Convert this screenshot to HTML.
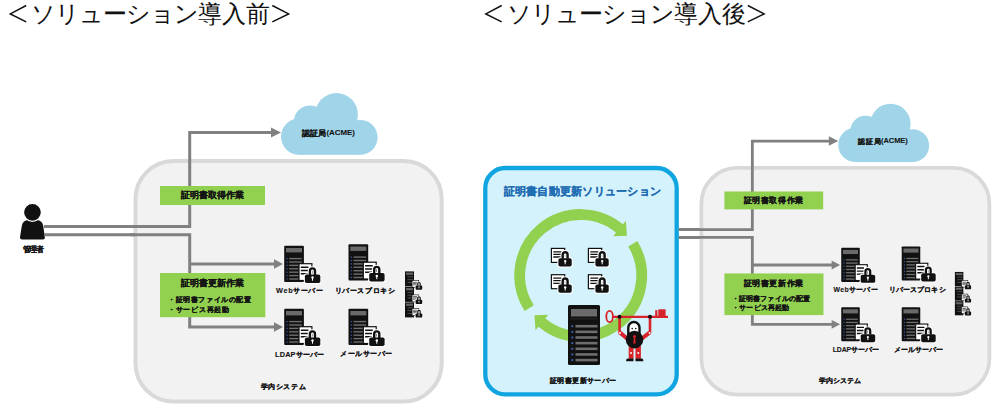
<!DOCTYPE html>
<html><head><meta charset="utf-8"><style>
html,body{margin:0;padding:0;background:#fff;width:1000px;height:410px;overflow:hidden;}
.t{position:absolute;top:0;font-family:"Liberation Sans",sans-serif;font-size:24px;line-height:28px;color:#111;white-space:nowrap;}
svg{position:absolute;left:0;top:0;}
.k{letter-spacing:-1px}
</style></head><body>
<svg width="1000" height="410" viewBox="0 0 1000 410">
<defs><g id="srv">
<rect x="0" y="0" width="19.7" height="36.2" rx="1" fill="#111"/>
<rect x="1.8" y="2.2" width="16" height="4.4" fill="#6a6a6a"/>
<rect x="2.3" y="12.2" width="1.2" height="1.2" fill="#3b5ea8"/><rect x="5" y="12.1" width="12.6" height="1.4" fill="#6e6e6e"/><rect x="2.3" y="15.6" width="1.2" height="1.2" fill="#3b5ea8"/><rect x="5" y="15.5" width="12.6" height="1.4" fill="#6e6e6e"/><rect x="2.3" y="19" width="1.2" height="1.2" fill="#3b5ea8"/><rect x="5" y="18.9" width="12.6" height="1.4" fill="#6e6e6e"/><rect x="2.3" y="22.4" width="1.2" height="1.2" fill="#3b5ea8"/><rect x="5" y="22.3" width="12.6" height="1.4" fill="#6e6e6e"/><rect x="2.3" y="25.8" width="1.2" height="1.2" fill="#3b5ea8"/><rect x="5" y="25.7" width="12.6" height="1.4" fill="#6e6e6e"/><rect x="2.3" y="29.2" width="1.2" height="1.2" fill="#3b5ea8"/><rect x="5" y="29.1" width="12.6" height="1.4" fill="#6e6e6e"/><rect x="2.3" y="32.6" width="1.2" height="1.2" fill="#3b5ea8"/><rect x="5" y="32.5" width="12.6" height="1.4" fill="#6e6e6e"/>
<g transform="translate(14.2 17.3) scale(1.0)"><rect x="0.6" y="0.6" width="12.9" height="16.8" fill="#fff" stroke="#111" stroke-width="1.2"/><path d="M2.4 4.1H10M2.4 7.4H10M2.4 10.6H10" stroke="#111" stroke-width="1.5"/><path d="M11.5 11.8V7.85A2.55 2.55 0 0 1 16.6 7.85V11.8" fill="none" stroke="#fff" stroke-width="4.4"/><rect x="5.5" y="10.3" width="17.4" height="10.6" rx="2.5" fill="#fff"/><path d="M11.5 11.8V7.85A2.55 2.55 0 0 1 16.6 7.85V11.8" fill="none" stroke="#111" stroke-width="2.4"/><rect x="6.5" y="11.3" width="15.4" height="8.6" rx="1.8" fill="#111"/><circle cx="14.1" cy="14.4" r="1.2" fill="#fff"/><path d="M14.1 14.4V17.6" stroke="#fff" stroke-width="1"/></g>
</g></defs>
<g id="sys">
<rect x="135.5" y="161" width="306.2" height="240.5" rx="38" fill="#f2f2f2" stroke="#d9d9d9" stroke-width="4"/>
<g fill="#a0d5e9">
<circle cx="336.5" cy="114.4" r="21.4"/>
<circle cx="310" cy="121.8" r="16.2"/>
<circle cx="299.2" cy="136.6" r="18.2"/>
<circle cx="360.2" cy="137.4" r="17.4"/>
<rect x="299" y="121.5" width="61.5" height="33.3"/>
</g>
<text x="313.90" y="136.10" font-size="7.6" text-anchor="middle" textLength="24.20" lengthAdjust="spacing" font-family="Liberation Sans, sans-serif" font-weight="bold" fill="#141414" stroke="#141414" stroke-width="0.12">認証局</text><text x="340.65" y="134.90" font-size="7.9" text-anchor="middle" textLength="28.30" lengthAdjust="spacing" font-family="Liberation Sans, sans-serif" font-weight="bold" fill="#141414" stroke="#141414" stroke-width="0.1">(ACME)</text>
<path d="M130 226.5H189.7V132.5H272" fill="none" stroke="#808080" stroke-width="3"/>
<path d="M130 234.8H189.7V327H275M189.7 264H275" fill="none" stroke="#808080" stroke-width="3"/>
<path d="M271 127.5L281 132.5L271 137.5Z M274 259.3L283 264L274 268.7Z M274 322.3L283 327L274 331.7Z" fill="#808080"/>
<rect x="160" y="186" width="105" height="19" fill="#92d050"/>
<text x="212.10" y="198.10" font-size="8.9" text-anchor="middle" textLength="63.00" lengthAdjust="spacing" font-family="Liberation Sans, sans-serif" font-weight="bold" fill="#141414" stroke="#141414" stroke-width="0.15">証明書取得作業</text>
<rect x="160" y="273" width="105.3" height="44.2" fill="#92d050"/>
<text x="212.05" y="286.20" font-size="8.9" text-anchor="middle" textLength="63.10" lengthAdjust="spacing" font-family="Liberation Sans, sans-serif" font-weight="bold" fill="#141414" stroke="#141414" stroke-width="0.15">証明書更新作業</text>
<text x="209.50" y="302.20" font-size="7.2" text-anchor="middle" textLength="83.00" lengthAdjust="spacing" font-family="Liberation Sans, sans-serif" font-weight="bold" fill="#141414" stroke="#141414" stroke-width="0.15">・証明書ファイルの配置</text>
<text x="198.50" y="311.50" font-size="7.2" text-anchor="middle" textLength="61.00" lengthAdjust="spacing" font-family="Liberation Sans, sans-serif" font-weight="bold" fill="#141414" stroke="#141414" stroke-width="0.15">・サービス再起動</text>
<use href="#srv" transform="translate(284.2 245.8)"/>
<use href="#srv" transform="translate(348.5 244.3)"/>
<use href="#srv" transform="translate(284.2 308.8)"/>
<use href="#srv" transform="translate(348.5 308.8)"/>
<text x="299.55" y="292.50" font-size="7.3" text-anchor="middle" textLength="46.90" lengthAdjust="spacing" font-family="Liberation Sans, sans-serif" font-weight="bold" fill="#141414" stroke="#141414" stroke-width="0.12">Webサーバー</text>
<text x="364.80" y="292.50" font-size="7.3" text-anchor="middle" textLength="60.60" lengthAdjust="spacing" font-family="Liberation Sans, sans-serif" font-weight="bold" fill="#141414" stroke="#141414" stroke-width="0.12">リバースプロキシ</text>
<text x="299.55" y="356.60" font-size="7.3" text-anchor="middle" textLength="48.90" lengthAdjust="spacing" font-family="Liberation Sans, sans-serif" font-weight="bold" fill="#141414" stroke="#141414" stroke-width="0.12">LDAPサーバー</text>
<text x="366.30" y="356.00" font-size="7.3" text-anchor="middle" textLength="52.40" lengthAdjust="spacing" font-family="Liberation Sans, sans-serif" font-weight="bold" fill="#141414" stroke="#141414" stroke-width="0.12">メールサーバー</text>
<text x="283.20" y="389.00" font-size="7.4" text-anchor="middle" textLength="44.80" lengthAdjust="spacing" font-family="Liberation Sans, sans-serif" font-weight="bold" fill="#141414" stroke="#141414" stroke-width="0.12">学内システム</text>
<g><rect x="405" y="271.4" width="9" height="15" fill="#111"/><rect x="406" y="272.6" width="7" height="2.2" fill="#666"/><rect x="407.5" y="276.4" width="5.5" height="0.9" fill="#555"/><rect x="407.5" y="279.2" width="5.5" height="0.9" fill="#555"/><rect x="407.5" y="282" width="5.5" height="0.9" fill="#555"/><g transform="translate(411.8 280.3) scale(0.5)"><rect x="0.6" y="0.6" width="13.3" height="14" fill="#fff" stroke="#111" stroke-width="1.2"/><path d="M2.5 4H10.7M2.5 6.6H10.7M2.5 9.2H10.7" stroke="#111" stroke-width="1.3"/><path d="M11.9 10.9V6.85A2.45 2.45 0 0 1 16.8 6.85V10.9" fill="none" stroke="#fff" stroke-width="4.4"/><rect x="6.6" y="9.4" width="15.3" height="10.3" rx="2.5" fill="#fff"/><path d="M11.9 10.9V6.85A2.45 2.45 0 0 1 16.8 6.85V10.9" fill="none" stroke="#111" stroke-width="2.4"/><rect x="7.6" y="10.4" width="13.3" height="8.3" rx="1.8" fill="#111"/><circle cx="14.4" cy="13.3" r="1.2" fill="#fff"/><path d="M14.4 13.3V16.5" stroke="#fff" stroke-width="1"/></g><rect x="405" y="286.9" width="9" height="15" fill="#111"/><rect x="406" y="288.1" width="7" height="2.2" fill="#666"/><rect x="407.5" y="291.9" width="5.5" height="0.9" fill="#555"/><rect x="407.5" y="294.7" width="5.5" height="0.9" fill="#555"/><rect x="407.5" y="297.5" width="5.5" height="0.9" fill="#555"/><g transform="translate(411.8 294.6) scale(0.5)"><rect x="0.6" y="0.6" width="13.3" height="14" fill="#fff" stroke="#111" stroke-width="1.2"/><path d="M2.5 4H10.7M2.5 6.6H10.7M2.5 9.2H10.7" stroke="#111" stroke-width="1.3"/><path d="M11.9 10.9V6.85A2.45 2.45 0 0 1 16.8 6.85V10.9" fill="none" stroke="#fff" stroke-width="4.4"/><rect x="6.6" y="9.4" width="15.3" height="10.3" rx="2.5" fill="#fff"/><path d="M11.9 10.9V6.85A2.45 2.45 0 0 1 16.8 6.85V10.9" fill="none" stroke="#111" stroke-width="2.4"/><rect x="7.6" y="10.4" width="13.3" height="8.3" rx="1.8" fill="#111"/><circle cx="14.4" cy="13.3" r="1.2" fill="#fff"/><path d="M14.4 13.3V16.5" stroke="#fff" stroke-width="1"/></g><rect x="405" y="302.4" width="9" height="15" fill="#111"/><rect x="406" y="303.6" width="7" height="2.2" fill="#666"/><rect x="407.5" y="307.4" width="5.5" height="0.9" fill="#555"/><rect x="407.5" y="310.2" width="5.5" height="0.9" fill="#555"/><rect x="407.5" y="313" width="5.5" height="0.9" fill="#555"/><g transform="translate(411.8 308.2) scale(0.5)"><rect x="0.6" y="0.6" width="13.3" height="14" fill="#fff" stroke="#111" stroke-width="1.2"/><path d="M2.5 4H10.7M2.5 6.6H10.7M2.5 9.2H10.7" stroke="#111" stroke-width="1.3"/><path d="M11.9 10.9V6.85A2.45 2.45 0 0 1 16.8 6.85V10.9" fill="none" stroke="#fff" stroke-width="4.4"/><rect x="6.6" y="9.4" width="15.3" height="10.3" rx="2.5" fill="#fff"/><path d="M11.9 10.9V6.85A2.45 2.45 0 0 1 16.8 6.85V10.9" fill="none" stroke="#111" stroke-width="2.4"/><rect x="7.6" y="10.4" width="13.3" height="8.3" rx="1.8" fill="#111"/><circle cx="14.4" cy="13.3" r="1.2" fill="#fff"/><path d="M14.4 13.3V16.5" stroke="#fff" stroke-width="1"/></g></g>
</g>
<g fill="#111">
<path d="M20 237.3L21.7 226.5Q22.4 220.2 28.5 220.1H36.5Q42.6 220.2 43.3 226.5L44.9 237.3Q45.1 239.5 42.9 239.5H22.1Q19.8 239.5 20 237.3Z"/>
<circle cx="32.45" cy="212.3" r="9" stroke="#fff" stroke-width="1.3"/>
</g>
<path d="M44 226.5H135M44 234.8H135" stroke="#808080" stroke-width="3"/>
<text x="33.15" y="251.50" font-size="7.6" text-anchor="middle" textLength="21.30" lengthAdjust="spacing" font-family="Liberation Sans, sans-serif" font-weight="bold" fill="#141414" stroke="#141414" stroke-width="0.15">管理者</text>
<rect x="485.3" y="168" width="191.4" height="226.4" rx="20" fill="#d4f2fc" stroke="#10a5e0" stroke-width="4.3"/>
<text x="582.35" y="195.10" font-size="10.6" text-anchor="middle" textLength="157.30" lengthAdjust="spacing" font-family="Liberation Sans, sans-serif" font-weight="bold" fill="#1f6db2" stroke="#1f6db2" stroke-width="0.2">証明書自動更新ソリューション</text>
<path d="M529.2 308.19 A61 61 0 0 1 621.91 230.53" fill="none" stroke="#92d050" stroke-width="10.8"/>
<path d="M613.14 236.15 L625.86 220.71 L626.95 235.72 Z" fill="#92d050"/>
<path d="M632.82 243.81 A61 61 0 0 1 539.49 320.47" fill="none" stroke="#92d050" stroke-width="10.8"/>
<path d="M548.26 314.85 L535.54 330.29 L534.45 315.28 Z" fill="#92d050"/>
<g transform="translate(550.8 247.8) scale(1.0)"><rect x="0.6" y="0.6" width="13.3" height="14" fill="#fff" stroke="#111" stroke-width="1.2"/><path d="M2.5 4H10.7M2.5 6.6H10.7M2.5 9.2H10.7" stroke="#111" stroke-width="1.3"/><path d="M11.9 10.9V6.85A2.45 2.45 0 0 1 16.8 6.85V10.9" fill="none" stroke="#fff" stroke-width="4.4"/><rect x="6.6" y="9.4" width="15.3" height="10.3" rx="2.5" fill="#fff"/><path d="M11.9 10.9V6.85A2.45 2.45 0 0 1 16.8 6.85V10.9" fill="none" stroke="#111" stroke-width="2.4"/><rect x="7.6" y="10.4" width="13.3" height="8.3" rx="1.8" fill="#111"/><circle cx="14.4" cy="13.3" r="1.2" fill="#fff"/><path d="M14.4 13.3V16.5" stroke="#fff" stroke-width="1"/></g><g transform="translate(550.8 274.1) scale(1.0)"><rect x="0.6" y="0.6" width="13.3" height="14" fill="#fff" stroke="#111" stroke-width="1.2"/><path d="M2.5 4H10.7M2.5 6.6H10.7M2.5 9.2H10.7" stroke="#111" stroke-width="1.3"/><path d="M11.9 10.9V6.85A2.45 2.45 0 0 1 16.8 6.85V10.9" fill="none" stroke="#fff" stroke-width="4.4"/><rect x="6.6" y="9.4" width="15.3" height="10.3" rx="2.5" fill="#fff"/><path d="M11.9 10.9V6.85A2.45 2.45 0 0 1 16.8 6.85V10.9" fill="none" stroke="#111" stroke-width="2.4"/><rect x="7.6" y="10.4" width="13.3" height="8.3" rx="1.8" fill="#111"/><circle cx="14.4" cy="13.3" r="1.2" fill="#fff"/><path d="M14.4 13.3V16.5" stroke="#fff" stroke-width="1"/></g><g transform="translate(587.8 247.8) scale(1.0)"><rect x="0.6" y="0.6" width="13.3" height="14" fill="#fff" stroke="#111" stroke-width="1.2"/><path d="M2.5 4H10.7M2.5 6.6H10.7M2.5 9.2H10.7" stroke="#111" stroke-width="1.3"/><path d="M11.9 10.9V6.85A2.45 2.45 0 0 1 16.8 6.85V10.9" fill="none" stroke="#fff" stroke-width="4.4"/><rect x="6.6" y="9.4" width="15.3" height="10.3" rx="2.5" fill="#fff"/><path d="M11.9 10.9V6.85A2.45 2.45 0 0 1 16.8 6.85V10.9" fill="none" stroke="#111" stroke-width="2.4"/><rect x="7.6" y="10.4" width="13.3" height="8.3" rx="1.8" fill="#111"/><circle cx="14.4" cy="13.3" r="1.2" fill="#fff"/><path d="M14.4 13.3V16.5" stroke="#fff" stroke-width="1"/></g><g transform="translate(587.8 274.1) scale(1.0)"><rect x="0.6" y="0.6" width="13.3" height="14" fill="#fff" stroke="#111" stroke-width="1.2"/><path d="M2.5 4H10.7M2.5 6.6H10.7M2.5 9.2H10.7" stroke="#111" stroke-width="1.3"/><path d="M11.9 10.9V6.85A2.45 2.45 0 0 1 16.8 6.85V10.9" fill="none" stroke="#fff" stroke-width="4.4"/><rect x="6.6" y="9.4" width="15.3" height="10.3" rx="2.5" fill="#fff"/><path d="M11.9 10.9V6.85A2.45 2.45 0 0 1 16.8 6.85V10.9" fill="none" stroke="#111" stroke-width="2.4"/><rect x="7.6" y="10.4" width="13.3" height="8.3" rx="1.8" fill="#111"/><circle cx="14.4" cy="13.3" r="1.2" fill="#fff"/><path d="M14.4 13.3V16.5" stroke="#fff" stroke-width="1"/></g>
<g transform="translate(568 305)">
<rect x="0" y="0" width="32" height="60" rx="1.5" fill="#111"/>
<rect x="3" y="4" width="26" height="7.5" fill="#6a6a6a"/>
<rect x="3" y="13.5" width="26" height="0.8" fill="#333"/>
<rect x="3.3" y="20.2" width="2" height="2" fill="#3b5ea8"/><rect x="7.5" y="19.9" width="22" height="2.6" fill="#6e6e6e"/><rect x="3.3" y="25.85" width="2" height="2" fill="#3b5ea8"/><rect x="7.5" y="25.55" width="22" height="2.6" fill="#6e6e6e"/><rect x="3.3" y="31.5" width="2" height="2" fill="#3b5ea8"/><rect x="7.5" y="31.2" width="22" height="2.6" fill="#6e6e6e"/><rect x="3.3" y="37.15" width="2" height="2" fill="#3b5ea8"/><rect x="7.5" y="36.85" width="22" height="2.6" fill="#6e6e6e"/><rect x="3.3" y="42.8" width="2" height="2" fill="#3b5ea8"/><rect x="7.5" y="42.5" width="22" height="2.6" fill="#6e6e6e"/><rect x="3.3" y="48.45" width="2" height="2" fill="#3b5ea8"/><rect x="7.5" y="48.15" width="22" height="2.6" fill="#6e6e6e"/><rect x="3.3" y="54.1" width="2" height="2" fill="#3b5ea8"/><rect x="7.5" y="53.8" width="22" height="2.6" fill="#6e6e6e"/>
</g>
<g>
<ellipse cx="609.6" cy="316.5" rx="3.3" ry="5.6" fill="none" stroke="#d8232a" stroke-width="1.8"/>
<path d="M612.5 316.8H668" stroke="#d8232a" stroke-width="2.2"/>
<rect x="658.3" y="309.3" width="7.3" height="7" fill="#d8232a"/>
<rect x="655.2" y="310.2" width="2.2" height="6" fill="#d8232a"/>
<path d="M619.6 318V333L627 338.5M650 318V333L642 338.5" fill="none" stroke="#d8232a" stroke-width="2.6" stroke-linejoin="round"/>
<path d="M620 332.5L627 338.5M649.6 332.5L642 338.5" fill="none" stroke="#d8232a" stroke-width="4"/>
<circle cx="620" cy="333" r="1" fill="#fff"/><circle cx="649.6" cy="333" r="1" fill="#fff"/>
<circle cx="619.5" cy="316.8" r="2" fill="#111"/><circle cx="650" cy="316.8" r="2" fill="#111"/>
<path d="M628.3 334V327.6A5.6 5.6 0 0 1 639.5 327.6V334Z" fill="#fff" stroke="#111" stroke-width="2.4"/>
<circle cx="632.2" cy="328.6" r="0.8" fill="#111"/><circle cx="635.8" cy="328.6" r="0.8" fill="#111"/>
<rect x="628.7" y="346" width="4.8" height="12.8" fill="#d8232a"/>
<rect x="635.5" y="346" width="5.4" height="12.8" fill="#d8232a"/>
<circle cx="631" cy="353" r="1" fill="#fff"/><circle cx="638.3" cy="353" r="1" fill="#fff"/>
<path d="M626.2 361.2V360A1.5 1.5 0 0 1 627.7 358.5H633.5V361.2Z M635.5 361.2V358.5H641.8A1.5 1.5 0 0 1 643.3 360V361.2Z" fill="#111"/>
<circle cx="634.5" cy="339.6" r="8.8" fill="#111"/>
<circle cx="634.5" cy="336.4" r="1.5" fill="#d8232a"/>
<path d="M633.9 337L633.3 343.4H635.7L635.1 337Z" fill="#d8232a"/>
</g>
<text x="583.10" y="382.60" font-size="7.3" text-anchor="middle" textLength="66.20" lengthAdjust="spacing" font-family="Liberation Sans, sans-serif" font-weight="bold" fill="#141414" stroke="#141414" stroke-width="0.12">証明書更新サーバー</text>
<path d="M678.5 229.5H702M678.5 237.5H702" stroke="#808080" stroke-width="3"/>
<path d="M26.2 5.5L10.3 13.9L26.2 21.9M272.3 5.5L288.6 13.9L272.3 21.9M501.7 5.5L485.8 13.9L501.7 21.9M747.8 5.5L764.1 13.9L747.8 21.9" fill="none" stroke="#111" stroke-width="1.5"/>
<use href="#sys" transform="translate(573.9 16.2) scale(0.9407 0.9423)"/>
</svg>
<div class="t" style="left:31px"><span class="k">ソリューション</span>導入前</div>
<div class="t" style="left:506.5px"><span class="k">ソリューション</span>導入後</div>
</body></html>
